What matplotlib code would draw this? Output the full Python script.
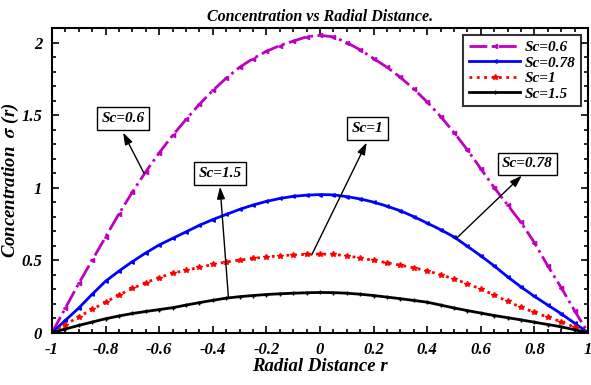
import matplotlib
matplotlib.use("Agg")
import matplotlib.pyplot as plt
import numpy as np

# radial positions, step 0.05
r = np.round(np.arange(-1.0, 1.0001, 0.05), 2)

sig_06 = [0, 0.17, 0.34, 0.50, 0.66, 0.82, 0.97, 1.11, 1.24, 1.36, 1.47,
          1.575, 1.67, 1.755, 1.83, 1.89, 1.94, 1.98, 2.01, 2.04, 2.05,
          2.04, 2.00, 1.95, 1.89, 1.83, 1.76, 1.68, 1.59, 1.49, 1.38,
          1.26, 1.13, 1.00, 0.88, 0.76, 0.62, 0.46, 0.31, 0.15, 0]
sig_078 = [0, 0.085, 0.17, 0.265, 0.355, 0.425, 0.49, 0.55, 0.605, 0.65, 0.695,
           0.74, 0.78, 0.815, 0.85, 0.88, 0.905, 0.925, 0.94, 0.948, 0.952,
           0.95, 0.938, 0.922, 0.90, 0.872, 0.84, 0.80, 0.755, 0.71, 0.66,
           0.595, 0.53, 0.46, 0.385, 0.315, 0.25, 0.19, 0.13, 0.065, 0]
sig_1 = [0, 0.055, 0.11, 0.16, 0.21, 0.26, 0.305, 0.345, 0.38, 0.41, 0.43,
         0.45, 0.47, 0.487, 0.50, 0.512, 0.522, 0.53, 0.536, 0.54, 0.542,
         0.54, 0.53, 0.515, 0.498, 0.482, 0.465, 0.447, 0.425, 0.40, 0.37,
         0.337, 0.30, 0.26, 0.215, 0.175, 0.14, 0.107, 0.075, 0.038, 0]
sig_15 = [0, 0.025, 0.05, 0.073, 0.096, 0.115, 0.132, 0.146, 0.159, 0.172, 0.19,
          0.207, 0.223, 0.238, 0.248, 0.256, 0.263, 0.268, 0.272, 0.275, 0.277,
          0.276, 0.272, 0.265, 0.256, 0.245, 0.234, 0.222, 0.21, 0.19, 0.17,
          0.152, 0.135, 0.118, 0.103, 0.088, 0.072, 0.056, 0.04, 0.02, 0]

labels = ["Sc=0.6", "Sc=0.78", "Sc=1", "Sc=1.5"]

plt.rcParams['font.family'] = ['Liberation Serif', 'DejaVu Serif']
plt.rcParams['font.weight'] = 'bold'
plt.rcParams['font.style'] = 'italic'
plt.rcParams['mathtext.fontset'] = 'stix'
plt.rcParams['mathtext.default'] = 'bfit'

fig = plt.figure(figsize=(5.91, 3.85), dpi=100)
ax = fig.add_axes([0.088, 0.136, 0.907, 0.791])

ax.plot(r, sig_06, color='m', ls='-.', lw=2, marker='<', ms=3, label=labels[0])
ax.plot(r, sig_078, color='b', ls='-', lw=2, marker='<', ms=2.5, label=labels[1])
ax.plot(r, sig_1, color='r', ls=':', lw=2, marker='*', ms=4, label=labels[2])
ax.plot(r, sig_15, color='k', ls='-', lw=2, marker='+', ms=3, label=labels[3])

ax.set_xlim(-1, 1)
ax.set_ylim(0, 2.1)
ax.set_xticks(np.arange(-1, 1.01, 0.2))
ax.set_xticklabels(['-1', '-0.8', '-0.6', '-0.4', '-0.2', '0', '0.2', '0.4', '0.6', '0.8', '1'])
ax.set_yticks([0, 0.5, 1, 1.5, 2])
ax.set_yticklabels(['0', '0.5', '1', '1.5', '2'])
ax.set_xticks(np.arange(-1, 1.01, 0.05), minor=True)
ax.set_yticks(np.arange(0, 2.11, 0.1), minor=True)
ax.tick_params(which='both', direction='in', top=True, right=True, labelsize=12, width=1.2)
ax.tick_params(which='major', length=5, pad=7)
ax.tick_params(which='minor', length=3)
for s in ax.spines.values():
    s.set_linewidth(1.5)

ax.set_title('Concentration vs Radial Distance.', fontsize=11.5, fontweight='bold', style='italic', pad=5)
ax.set_xlabel('Radial Distance r', fontsize=13.5, fontweight='bold', style='italic', labelpad=0)
ax.set_ylabel(r'Concentration  $\sigma$ (r)', fontsize=13.5, fontweight='bold', style='italic', labelpad=0)

leg = ax.legend(loc='upper right', fontsize=11, handlelength=3.4, frameon=True,
                fancybox=False, borderaxespad=0.45, labelspacing=0.12, handletextpad=0.3,
                borderpad=0.35)
leg.get_frame().set_edgecolor('k')
leg.get_frame().set_linewidth(1.5)

# text boxes with arrows pointing away from each curve
box = dict(boxstyle='square,pad=0.3', fc='white', ec='k', lw=1)
notes = [("Sc=0.6", (-0.735, 1.477), (-0.657, 1.10), (-0.735, 1.38)),
         ("Sc=1.5", (-0.373, 1.097), (-0.342, 0.248), (-0.373, 1.006)),
         ("Sc=1", (0.177, 1.408), (-0.031, 0.536), (0.174, 1.311)),
         ("Sc=0.78", (0.774, 1.163), (0.51, 0.652), (0.753, 1.083))]
for txt, tpos, tail, head in notes:
    ax.text(tpos[0], tpos[1], txt, fontsize=11, fontweight='bold', style='italic',
            ha='center', va='center', bbox=box)
    ax.annotate('', xy=head, xytext=tail,
                arrowprops=dict(arrowstyle='-|>,head_length=0.6,head_width=0.2',
                                color='k', lw=1, mutation_scale=12, shrinkA=0, shrinkB=0))

fig.savefig('out.png', dpi=100)
